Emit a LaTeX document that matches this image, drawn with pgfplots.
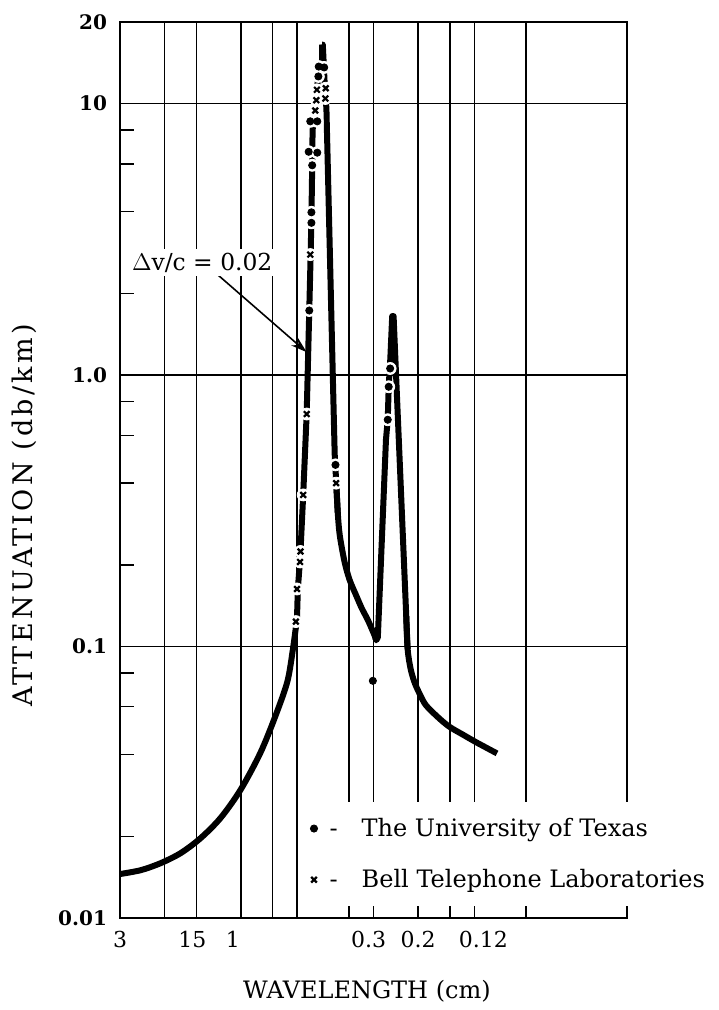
\documentclass[border=0pt]{standalone}
\usepackage{fontspec}
\setmainfont{DejaVu Serif}
\usepackage{pgfplots}
\pgfplotsset{compat=1.18}
\usetikzlibrary{arrows.meta}
\begin{document}
\begin{tikzpicture}
\begin{axis}[
  scale only axis, width=253.5pt, height=448pt,
  xmode=log, ymode=log, xmin=10, xmax=1000, ymin=0.01, ymax=20,
  clip=false,
  axis line style={line width=0.7pt},
  xtick={10,15,20,30,40,50,80,100,150,200,250,400,1000},
  xticklabels={3,,\kern-4pt 15,\kern-8pt 1,,,,\kern-5pt 0.3,0.2,,\kern9pt 0.12,,},
  ytick={0.01,0.1,1,10,20},
  yticklabels={0.01,0.1,1.0,10,20},
  xminorticks=false,
  minor ytick={0.02,0.04,0.06,0.08,0.2,0.4,0.6,0.8,2,4,6,8},
  major tick length=0pt, minor tick length=7pt,
  ytick pos=left, xtick pos=bottom,
  xmajorgrids, ymajorgrids,
  major grid style={black, line width=0.7pt},
  minor tick style={black, line width=0.7pt},
  /pgf/number format/assume math mode=true,
  tick label style={font=\fontsize{11}{13}\selectfont},
  yticklabel style={font=\bfseries\fontsize{10}{12}\selectfont, xshift=-3pt},
  xticklabel style={yshift=-3pt},
  xlabel={WAVELENGTH (cm)}, ylabel={ATTENUATION (db/km)},
  xlabel style={font=\fontsize{12}{14}\selectfont, at={(axis description cs:0.487,-0.0815)}, anchor=center},
  ylabel style={font=\fontsize{13.5}{16}\selectfont\addfontfeature{LetterSpace=12}, at={(axis description cs:-0.189,0.449)}, anchor=center},
  legend style={draw=none, fill=white, at={(axis description cs:0.355,0.0125)}, anchor=south west,
    font=\fontsize{12}{14}\selectfont, row sep=11pt, inner xsep=5pt, inner ysep=6pt},
  legend cell align=left,
  legend image code/.code={\draw[mark repeat=2,mark phase=2,#1] plot coordinates {(0cm,0cm)(0.15cm,0cm)(0.3cm,0cm)};},
]
% main curve
\addplot[black, line width=3pt, smooth, tension=0.5, forget plot] coordinates {
(10,0.01452) (12.09,0.01501) (14.48,0.01593) (17.35,0.01734) (20.78,0.01968) (24.89,0.02332)
(29.82,0.02956) (35.72,0.04043) (40.97,0.05529) (45.73,0.07435) (48.13,0.09831) (49.9,0.1267)};
\addplot[black, line width=3pt, line join=round, forget plot] coordinates {
(49.9,0.1267) (50.3,0.163) (51.4,0.214) (52.8,0.362) (54.5,0.72) (55.8,1.74) (56.5,2.78)
(56.9,3.8) (57.3,5.9) (57.5,8.0) (58.9,9.44) (59.8,11.25) (60.7,13.0) (62.7,14.5) (62.7,16.5)};
\addplot[black, line width=3pt, line join=round, forget plot] coordinates {
(62.7,16.5) (63.1,16.5) (64.3,11.4) (65.2,9.6) (68.4,1.48) (70.3,0.51) (71.3,0.40) (72.3,0.31)};
\addplot[black, line width=3pt, smooth, tension=0.5, forget plot] coordinates {
(71.3,0.40) (72.3,0.31) (73.6,0.257) (76.9,0.205) (80.5,0.176) (85.5,0.154) (90.0,0.138)
(95.1,0.125) (100.9,0.110) (102.5,0.1055)};
\addplot[black, line width=3pt, line join=round, forget plot] coordinates {
(101.5,0.108) (102.5,0.1055) (104,0.108) (112,0.58) (113.8,0.685) (114.8,0.906) (116.5,1.15)
(118.5,1.65) (120,1.65) (134.6,0.13) (136.3,0.098)};
\addplot[black, line width=3pt, smooth, tension=0.5, forget plot] coordinates {
(134.6,0.13) (136.3,0.098) (140,0.083) (145,0.074) (152,0.067) (161,0.0608) (180,0.0548)
(199,0.0507) (225,0.0474) (252,0.0446) (280,0.0423) (307,0.0404)};
% white halos that break the curve around the measured points
\addplot[only marks, mark=*, mark size=3.0pt, white, forget plot] coordinates {
(55.8,1.73) (56.9,3.64) (56.9,3.98) (57.3,5.93) (55.5,6.65) (60.0,6.6) (56.3,8.61) (60.0,8.61)
(60.6,12.6) (60.8,13.7) (63.9,13.6) (70.8,0.467) (113.8,0.685) (114.8,0.906) (116.3,1.058)
(49.4,0.1236) (49.9,0.163) (51.3,0.205) (51.5,0.224) (52.8,0.362) (54.5,0.719) (56.3,2.78)
(58.9,9.44) (59.5,10.3) (59.8,11.25) (64.6,10.45) (64.8,11.4) (71.2,0.40)};
% The University of Texas
\addplot[only marks, mark=*, mark size=1.8pt, black] coordinates {
(55.8,1.73) (56.9,3.64) (56.9,3.98) (57.3,5.93) (55.5,6.65) (60.0,6.6) (56.3,8.61) (60.0,8.61)
(60.6,12.6) (60.8,13.7) (63.9,13.6) (70.8,0.467) (99.4,0.0748) (113.8,0.685) (114.8,0.906) (116.3,1.058)};
\addlegendentry{\hspace{4pt}-\hspace{12pt}The University of Texas}
% Bell Telephone Laboratories
\addplot[only marks, mark=x, mark size=2.0pt, black, line width=1.1pt] coordinates {
(49.4,0.1236) (49.9,0.163) (51.3,0.205) (51.5,0.224) (52.8,0.362) (54.5,0.719) (56.3,2.78)
(58.9,9.44) (59.5,10.3) (59.8,11.25) (64.6,10.45) (64.8,11.4) (71.2,0.40)};
\addlegendentry{\hspace{4pt}-\hspace{12pt}Bell Telephone Laboratories}
% annotation
\draw[-{Stealth[length=8pt,width=5pt]}, line width=0.8pt] (axis cs:24.2,2.35) -- (axis cs:54.5,1.215);
\node[fill=white, inner sep=2pt, font=\fontsize{11.7}{13}\selectfont] at (axis cs:21.1,2.60) {$\Delta$v/c = 0.02};
\end{axis}
\pgfresetboundingbox
\path[use as bounding box] (-60pt,-46pt) rectangle (299pt,459pt);
\end{tikzpicture}
\end{document}
